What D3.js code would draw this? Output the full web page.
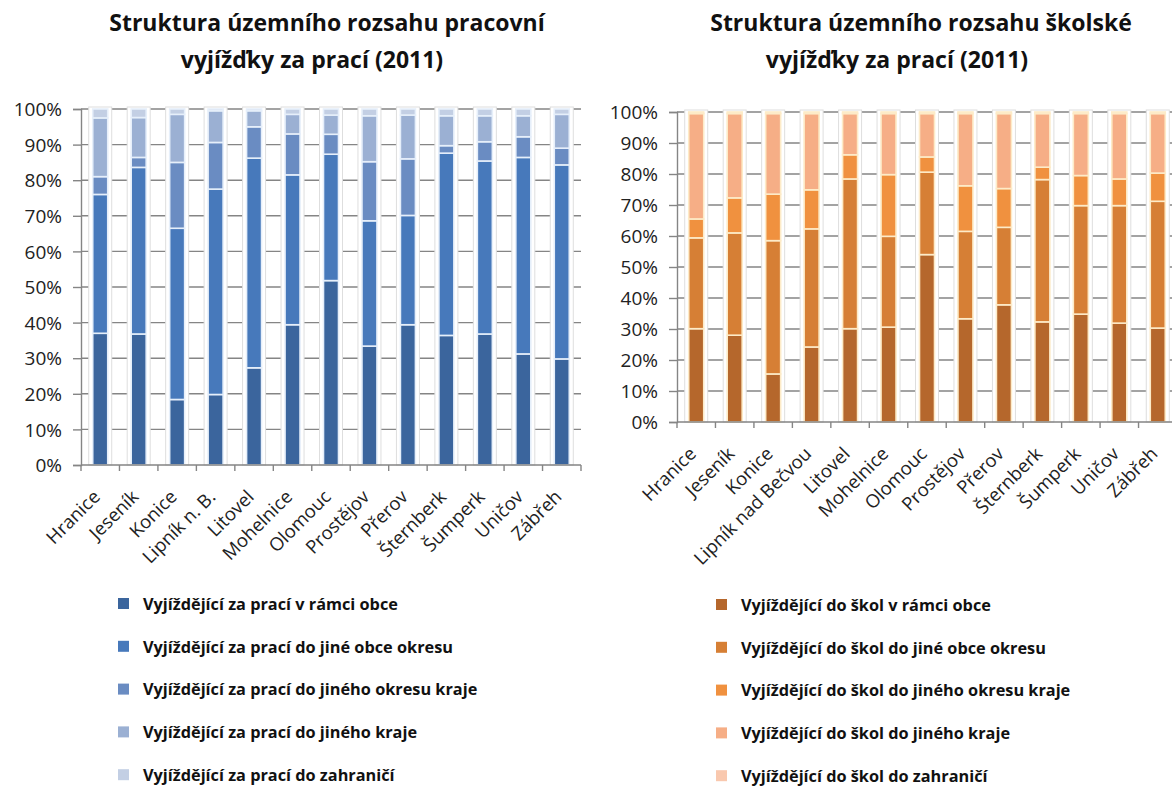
<!DOCTYPE html>
<html>
<head>
<meta charset="utf-8">
<script src="https://cdn.jsdelivr.net/npm/d3@7/dist/d3.min.js"></script>
<style>
  html, body { margin: 0; padding: 0; background: #ffffff; }
  svg { display: block; }
</style>
</head>
<body>
<svg id="chart" width="1172" height="787"></svg>
<script>
// ---------- DATA ----------
const categoriesWork = ["Hranice","Jeseník","Konice","Lipník n. B.","Litovel","Mohelnice","Olomouc","Prostějov","Přerov","Šternberk","Šumperk","Uničov","Zábřeh"];
const categoriesSchool = ["Hranice","Jeseník","Konice","Lipník nad Bečvou","Litovel","Mohelnice","Olomouc","Prostějov","Přerov","Šternberk","Šumperk","Uničov","Zábřeh"];

const workWithin      = [37.0, 36.8, 18.4, 19.8, 27.3, 39.4, 51.8, 33.4, 39.4, 36.4, 36.8, 31.2, 29.8];
const workDistrict    = [39.0, 46.8, 48.1, 57.7, 58.9, 42.1, 35.5, 35.2, 30.7, 51.2, 48.6, 55.2, 54.5];
const workRegion      = [ 5.0,  2.8, 18.5, 13.1,  8.8, 11.5,  5.6, 16.6, 15.9,  2.1,  5.4,  5.8,  4.7];
const workOtherRegion = [16.5, 11.2, 13.5,  8.9,  4.5,  5.5,  5.4, 12.9, 12.3,  8.4,  7.3,  5.9,  9.5];
const workAbroad      = [ 2.5,  2.4,  1.5,  0.5,  0.5,  1.5,  1.7,  1.9,  1.7,  1.9,  1.9,  1.9,  1.5];

const schoolWithin      = [30.1, 28.0, 15.5, 24.2, 30.1, 30.6, 54.0, 33.3, 37.8, 32.3, 34.8, 31.9, 30.3];
const schoolDistrict    = [29.3, 33.0, 43.0, 38.1, 48.3, 29.3, 26.6, 28.2, 25.0, 45.9, 35.0, 37.9, 40.9];
const schoolRegion      = [ 6.1, 11.3, 15.0, 12.6,  7.8, 19.9,  4.9, 14.7, 12.5,  4.0,  9.7,  8.6,  9.1];
const schoolOtherRegion = [34.0, 27.2, 26.0, 24.6, 13.3, 19.7, 14.0, 23.3, 24.2, 17.3, 20.0, 21.1, 19.2];
const schoolAbroad      = [ 0.5,  0.5,  0.5,  0.5,  0.5,  0.5,  0.5,  0.5,  0.5,  0.5,  0.5,  0.5,  0.5];

const workSeriesNames = [
  "Vyjíždějící za prací v rámci obce",
  "Vyjíždějící za prací do jiné obce okresu",
  "Vyjíždějící za prací do jiného okresu kraje",
  "Vyjíždějící za prací do jiného kraje",
  "Vyjíždějící za prací do zahraničí"
];
const schoolSeriesNames = [
  "Vyjíždějící do škol v rámci obce",
  "Vyjíždějící do škol do jiné obce okresu",
  "Vyjíždějící do škol do jiného okresu kraje",
  "Vyjíždějící do škol do jiného kraje",
  "Vyjíždějící do škol do zahraničí"
];
const workTitle = ["Struktura územního rozsahu pracovní", "vyjížďky za prací (2011)"];
const schoolTitle = ["Struktura územního rozsahu školské", "vyjížďky za prací (2011)"];
const yTicks = [0, 10, 20, 30, 40, 50, 60, 70, 80, 90, 100];

// ---------- DRAWING ----------
const svg = d3.select("#chart");
const FONT = "'Open Sans', 'Noto Sans', sans-serif";

function drawChart(opt) {
  const { categories, series, names, colors, barStroke, title, x0, x1, yTop, yBottom, titleX, legendX, legendY0, legendDy } = opt;
  const g = svg.append("g");

  // Title
  g.selectAll("text.title").data(title).join("text")
    .attr("class", "title")
    .attr("x", (d, i) => titleX[i])
    .attr("y", (d, i) => 31 + i * 37)
    .attr("text-anchor", "middle")
    .attr("font-family", FONT)
    .attr("font-weight", 700)
    .attr("font-size", 23)
    .attr("fill", "#111")
    .text(d => d);

  const x = d3.scaleBand().domain(categories).range([x0, x1]).paddingInner(0.61).paddingOuter(0.305);
  const xb = d3.scaleBand().domain(categories).range([x0, x1]).padding(0);
  const y = d3.scaleLinear().domain([0, 100]).range([yBottom, yTop]);

  // Gridlines
  g.append("g").selectAll("line").data(yTicks.slice(1)).join("line")
    .attr("x1", x0).attr("x2", x1)
    .attr("y1", d => y(d)).attr("y2", d => y(d))
    .attr("stroke", "#858585").attr("stroke-width", 1.4);

  // Y axis
  const yAxis = d3.axisLeft(y).tickValues(yTicks).tickFormat(d => d + "%").tickSize(8).tickPadding(11);
  const ya = g.append("g").attr("transform", `translate(${x0},0)`).call(yAxis);
  ya.select(".domain").attr("stroke", "#858585").attr("stroke-width", 1.4);
  ya.selectAll(".tick line").attr("stroke", "#858585").attr("stroke-width", 1.4);
  ya.selectAll(".tick text").attr("font-family", FONT).attr("font-size", 19).attr("fill", "#222").attr("dy", "0.35em");

  // Stack data
  const rows = categories.map((c, i) => {
    const o = { cat: c };
    series.forEach((s, k) => { o["s" + k] = s[i]; });
    return o;
  });
  const keys = series.map((s, k) => "s" + k);
  const stacked = d3.stack().keys(keys)(rows);

  // Halo behind bars
  g.append("g").selectAll("rect").data(categories).join("rect")
    .attr("x", d => x(d) - 4)
    .attr("width", x.bandwidth() + 8)
    .attr("y", y(100) - 2)
    .attr("height", y(0) - y(100) + 2)
    .attr("fill", "#ffffff")
    .attr("stroke", "#dedede").attr("stroke-width", 1);

  // Bars
  g.append("g").selectAll("g").data(stacked).join("g")
    .attr("fill", (d, k) => colors[k])
    .selectAll("rect").data(d => d).join("rect")
    .attr("x", d => x(d.data.cat))
    .attr("width", x.bandwidth())
    .attr("y", d => y(d[1]))
    .attr("height", d => Math.max(0, y(d[0]) - y(d[1])))
    .attr("stroke", barStroke).attr("stroke-width", 1.6);

  // X axis (ticks between categories)
  const xa = g.append("g").attr("transform", `translate(0,${yBottom})`);
  xa.append("line").attr("x1", x0).attr("x2", x1).attr("y1", 0).attr("y2", 0)
    .attr("stroke", "#858585").attr("stroke-width", 1.4);
  xa.selectAll("line.tk").data(categories.concat(["__end"])).join("line")
    .attr("class", "tk")
    .attr("x1", (d, i) => i < categories.length ? xb(d) : x1)
    .attr("x2", (d, i) => i < categories.length ? xb(d) : x1)
    .attr("y1", 0).attr("y2", 6)
    .attr("stroke", "#858585").attr("stroke-width", 1.4);
  xa.selectAll("text").data(categories).join("text")
    .attr("transform", d => `translate(${x(d) + x.bandwidth() / 2 + 1},${33}) rotate(-45)`)
    .attr("text-anchor", "end")
    .attr("font-family", FONT)
    .attr("font-size", 18.5)
    .attr("fill", "#222")
    .text(d => d);

  // Legend
  const lg = g.append("g");
  const items = lg.selectAll("g").data(names).join("g")
    .attr("transform", (d, i) => `translate(${legendX},${legendY0 + i * legendDy})`);
  items.append("rect").attr("x", 0).attr("y", -6).attr("width", 11).attr("height", 11)
    .attr("fill", (d, i) => colors[i]);
  items.append("text").attr("x", 25).attr("y", 0).attr("dy", "0.35em")
    .attr("font-family", FONT).attr("font-weight", 700).attr("font-size", 16.3)
    .attr("fill", "#111").text(d => d);
}

drawChart({
  categories: categoriesWork,
  series: [workWithin, workDistrict, workRegion, workOtherRegion, workAbroad],
  names: workSeriesNames,
  colors: ["#3b659d", "#4779bb", "#6a8cc2", "#9bb0d3", "#c3cfe4"],
  barStroke: "#e6effa",
  title: workTitle,
  titleX: [327, 312],
  x0: 81, x1: 581, yTop: 109, yBottom: 465,
  legendX: 118, legendY0: 604, legendDy: 42.8
});

drawChart({
  categories: categoriesSchool,
  series: [schoolWithin, schoolDistrict, schoolRegion, schoolOtherRegion, schoolAbroad],
  names: schoolSeriesNames,
  colors: ["#b5672c", "#d67f35", "#f0913f", "#f6ae86", "#f9c8ae"],
  barStroke: "#fdebc8",
  title: schoolTitle,
  titleX: [921, 897],
  x0: 677, x1: 1177, yTop: 112, yBottom: 422,
  legendX: 716, legendY0: 605, legendDy: 42.8
});
</script>
</body>
</html>
